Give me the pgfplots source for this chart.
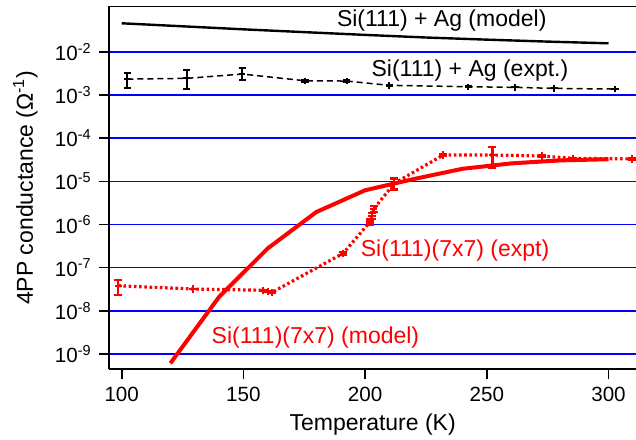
\documentclass[border=0pt]{standalone}
\usepackage{fontspec}
\setmainfont{Liberation Sans}
\usepackage{pgfplots}
\pgfplotsset{compat=1.18}

\begin{document}
\begin{tikzpicture}
  \pgfplotsset{every axis/.append style={line width=0.9pt}}
  \begin{semilogyaxis}[
      scale only axis, width=263.35pt, height=181.65pt,
      xmin=94.9, xmax=311.3, ymin=4.43e-10, ymax=0.1148,
      axis lines*=left,
      xtick={100,150,...,300},
      ytick={1e-9,1e-8,1e-7,1e-6,1e-5,1e-4,1e-3,1e-2},
      yticklabels={10\textsuperscript{-9},10\textsuperscript{-8},10\textsuperscript{-7},10\textsuperscript{-6},10\textsuperscript{-5},10\textsuperscript{-4},10\textsuperscript{-3},10\textsuperscript{-2}},
      yminorticks=false, xminorticks=false,
      tick align=outside, major tick length=5pt,
      tick style={black, line width=0.8pt},
      ymajorgrids, major grid style={blue, line width=0.75pt},
      /pgf/number format/assume math mode=true,
      ticklabel style={font=\fontsize{10.3}{12}\selectfont},
      label style={font=\fontsize{11.5}{13}\selectfont},
      xlabel={Temperature (K)},
      ylabel={4PP conductance (Ω\textsuperscript{-1})},
      xlabel style={at={(axis description cs:0.5,0)}, anchor=center, yshift=-27.5pt},
      ylabel style={at={(axis description cs:0,0.5)}, anchor=center, yshift=42pt},
    ]

    % Si(111) + Ag model
    \addplot[black, solid, line width=1.2pt, mark=none] coordinates {
      (100,0.0457) (125,0.0389) (150,0.0331) (175,0.0285) (200,0.0246)
      (225,0.0214) (250,0.0191) (275,0.0172) (300,0.0157) };

    % Si(111) + Ag expt
    \addplot[black, line width=0.75pt, dash pattern=on 3pt off 2pt,
      mark=+, mark size=1.6pt, mark options={solid, line width=1pt},
      error bars/.cd, y dir=both, y explicit,
      error bar style={solid, line width=0.9pt},
      error mark options={rotate=90, mark size=1.8pt, line width=0.9pt, solid}]
      coordinates {
      (102.3,2.33e-3) += (0,0.94e-3) -= (0,0.91e-3)
      (126.7,2.42e-3) += (0,1.35e-3) -= (0,1.07e-3)
      (149.5,3.05e-3) += (0,1.08e-3) -= (0,0.84e-3)
      (175.3,2.13e-3) +- (0,0.1e-3)
      (192.4,2.10e-3) +- (0,0.1e-3)
      (209.9,1.67e-3) +- (0,0.05e-3)
      (242.4,1.55e-3) +- (0,0.05e-3)
      (261.6,1.50e-3) +- (0,0)
      (277.6,1.42e-3) +- (0,0)
      (302.7,1.37e-3) +- (0,0) };

    % Si(111)(7x7) model
    \addplot[red, solid, line width=2pt, mark=none] coordinates {
      (120,6.1e-10) (140,2.1e-8) (160,2.8e-7) (180,1.95e-6) (200,6.2e-6)
      (220,1.13e-5) (240,1.95e-5) (260,2.6e-5) (280,3.05e-5) (300,3.25e-5) };

    % Si(111)(7x7) expt
    \addplot[red, line width=1.6pt, dash pattern=on 1.3pt off 1.3pt,
      mark=+, mark size=1.8pt, mark options={solid, line width=1.1pt},
      error bars/.cd, y dir=both, y explicit,
      error bar style={solid, line width=1.1pt},
      error mark options={rotate=90, mark size=2pt, line width=1.1pt, solid}]
      coordinates {
      (98.6,3.82e-8) += (0,1.36e-8) -= (0,1.49e-8)
      (129.4,3.2e-8) +- (0,0)
      (158.2,3.0e-8) +- (0,0.1e-8)
      (160.0,2.8e-8) +- (0,0.1e-8)
      (161.6,2.65e-8) +- (0,0.1e-8)
      (191.0,2.15e-7) +- (0,0.2e-7)
      (202.0,1.15e-6) +- (0,0.15e-6)
      (202.8,1.6e-6) +- (0,0.25e-6)
      (203.6,2.3e-6) +- (0,0.35e-6)
      (212.0,8.97e-6) += (0,2.7e-6) -= (0,2.5e-6)
      (232.1,4.06e-5) +- (0,0.2e-5)
      (252.3,4.06e-5) += (0,2.24e-5) -= (0,1.96e-5)
      (272.8,3.85e-5) +- (0,0.2e-5)
      (285.3,3.4e-5) +- (0,0)
      (309.5,3.3e-5) +- (0,0.2e-5) };

    \node[anchor=west, inner sep=0pt, font=\fontsize{11.5}{13}\selectfont]
      at (axis cs:188.1,0.0542) {Si(111) + Ag (model)};
    \node[anchor=west, inner sep=0pt, fill=white, font=\fontsize{11.5}{13}\selectfont]
      at (axis cs:202.3,3.77e-3) {Si(111) + Ag (expt.)};
    \node[anchor=west, inner sep=0pt, text=red, font=\fontsize{11.5}{13}\selectfont]
      at (axis cs:197.9,2.43e-7) {Si(111)(7x7) (expt)};
    \node[anchor=west, inner sep=0pt, text=red, font=\fontsize{11.5}{13}\selectfont]
      at (axis cs:136.6,2.35e-9) {Si(111)(7x7) (model)};
    \draw[black, line width=0.9pt] (rel axis cs:0,1) -- (rel axis cs:1,1);
  \end{semilogyaxis}
  \pgfresetboundingbox
  \path[use as bounding box] (-54.65pt,-34.85pt) rectangle ++(318pt,219.5pt);
\end{tikzpicture}
\end{document}
